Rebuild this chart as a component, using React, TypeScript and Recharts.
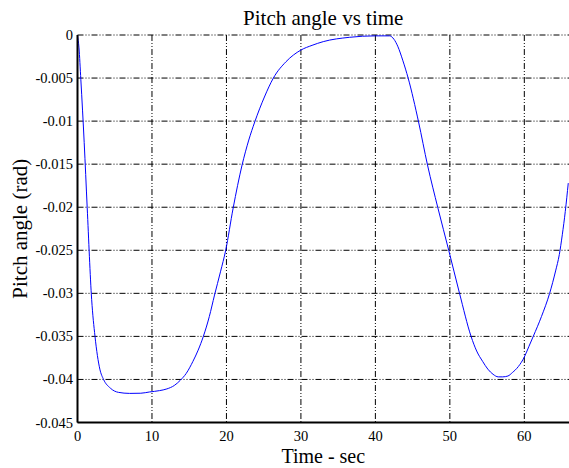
import React from 'react';
import { LineChart, Line, XAxis, YAxis, CartesianGrid } from 'recharts';

const timeSec = [
  0, 0.2, 0.45, 0.9, 1.3, 1.9, 2.35, 3.0, 3.5, 4.4, 5.5, 7, 8.5, 9.7, 11, 12, 13, 13.8, 14.6,
  15.5, 16.2, 16.9, 17.7, 18.4, 19.2, 19.9, 20.9, 22.1, 23.0, 23.8, 25.1, 26.3, 28, 30, 31.5,
  33, 36.5, 40, 41.9, 42.5, 43.0, 43.7, 44.4, 45.8, 47.0, 48.4, 49.85, 51.3, 52.85, 53.6,
  54.4, 55.1, 55.8, 56.5, 57.1, 57.8, 58.4, 59.2, 60.0, 60.6, 61.2, 62.3, 63.4, 64.2, 64.7,
  65.1, 65.5, 65.9,
];

const pitchRad = [
  0, -0.0015, -0.0052, -0.0125, -0.02, -0.0307, -0.035, -0.0388, -0.04, -0.041, -0.0415,
  -0.04162, -0.0416, -0.04145, -0.0413, -0.0411, -0.0407, -0.0401, -0.0393, -0.0379, -0.0366,
  -0.035, -0.0327, -0.0302, -0.0275, -0.025, -0.0201, -0.0151, -0.0122, -0.0101, -0.0072,
  -0.005, -0.0031, -0.00175, -0.0012, -0.00077, -0.00027, -0.0001, -0.0001, -0.0005, -0.0013,
  -0.003, -0.005, -0.0101, -0.0151, -0.0201, -0.025, -0.03, -0.035, -0.0367, -0.0379, -0.0388,
  -0.0394, -0.0397, -0.0397, -0.0396, -0.0392, -0.0385, -0.0374, -0.0362, -0.035, -0.0327,
  -0.03, -0.0274, -0.0255, -0.0232, -0.0205, -0.0172,
];

const xTicks = [0, 10, 20, 30, 40, 50, 60];
const yTicks = [0, -0.005, -0.01, -0.015, -0.02, -0.025, -0.03, -0.035, -0.04, -0.045];

const titleText = 'Pitch angle vs time';
const xLabelText = 'Time - sec';
const yLabelText = 'Pitch angle (rad)';

const data = timeSec.map((t, i) => ({ t, v: pitchRad[i] }));

const W = 569;
const H = 468;
const LEFT = 77.5;
const TOP = 35;
const BOTTOM = 422.5;
const FONT = "'Liberation Serif', 'Times New Roman', serif";
const serifStyle = { fontFamily: FONT, fontSize: 14.5 } as React.CSSProperties;

const renderXTick = (props: any) => {
  const { x, y, payload } = props;
  return (
    <text x={x} y={y} dy={10} textAnchor="middle" fill="#000" style={serifStyle}>
      {String(payload.value)}
    </text>
  );
};

const renderYTick = (props: any) => {
  const { x, y, payload } = props;
  return (
    <text x={x} y={y} dy={5} textAnchor="end" fill="#000" style={serifStyle}>
      {String(payload.value)}
    </text>
  );
};

export default function App() {
  const plotCx = (LEFT + W) / 2;
  const plotCy = (TOP + BOTTOM) / 2;
  const labelStyle = { fontFamily: FONT, fontSize: 21 } as React.CSSProperties;
  const xLabelStyle = { fontFamily: FONT, fontSize: 20 } as React.CSSProperties;
  return (
    <div style={{ position: 'absolute', left: 0, top: 0, width: W, height: H, background: '#fff', overflow: 'hidden', fontFamily: FONT }}>
      <LineChart
        width={W}
        height={H}
        data={data}
        margin={{ top: TOP, right: 0, bottom: 0, left: 0 }}
        style={{ fontFamily: FONT }}
      >
        <CartesianGrid
          stroke="#000"
          strokeWidth={1}
          strokeDasharray="6 2 1 2 1 2"
          horizontalValues={yTicks}
          verticalValues={xTicks}
        />
        <XAxis
          dataKey="t"
          type="number"
          domain={[0, 66]}
          ticks={xTicks}
          allowDataOverflow
          height={H - BOTTOM}
          tickLine={false}
          tickSize={0}
          tickMargin={8.5}
          axisLine={{ stroke: '#000', strokeWidth: 2 }}
          tick={renderXTick}
        />
        <XAxis
          xAxisId="top"
          dataKey="t"
          type="number"
          domain={[0, 66]}
          orientation="top"
          height={0}
          tick={false}
          tickLine={false}
          axisLine={{ stroke: '#000', strokeWidth: 1.5 }}
        />
        <YAxis
          type="number"
          domain={[-0.045, 0]}
          ticks={yTicks}
          allowDataOverflow
          width={LEFT}
          tickLine={false}
          tickSize={0}
          tickMargin={4.5}
          axisLine={{ stroke: '#000', strokeWidth: 2 }}
          tick={renderYTick}
        />
        <Line
          dataKey="v"
          type="monotone"
          stroke="#0000ff"
          strokeWidth={1}
          dot={false}
          isAnimationActive={false}
        />
      </LineChart>
      <svg
        width={W}
        height={H}
        style={{ position: 'absolute', left: 0, top: 0, pointerEvents: 'none' }}
      >
        <text x={plotCx} y={24.5} textAnchor="middle" fill="#000" style={labelStyle}>
          {titleText}
        </text>
        <text x={plotCx} y={463} textAnchor="middle" fill="#000" style={xLabelStyle}>
          {xLabelText}
        </text>
        <text
          x={27}
          y={plotCy}
          textAnchor="middle"
          fill="#000"
          style={labelStyle}
          transform={`rotate(-90 27 ${plotCy})`}
        >
          {yLabelText}
        </text>
      </svg>
    </div>
  );
}
